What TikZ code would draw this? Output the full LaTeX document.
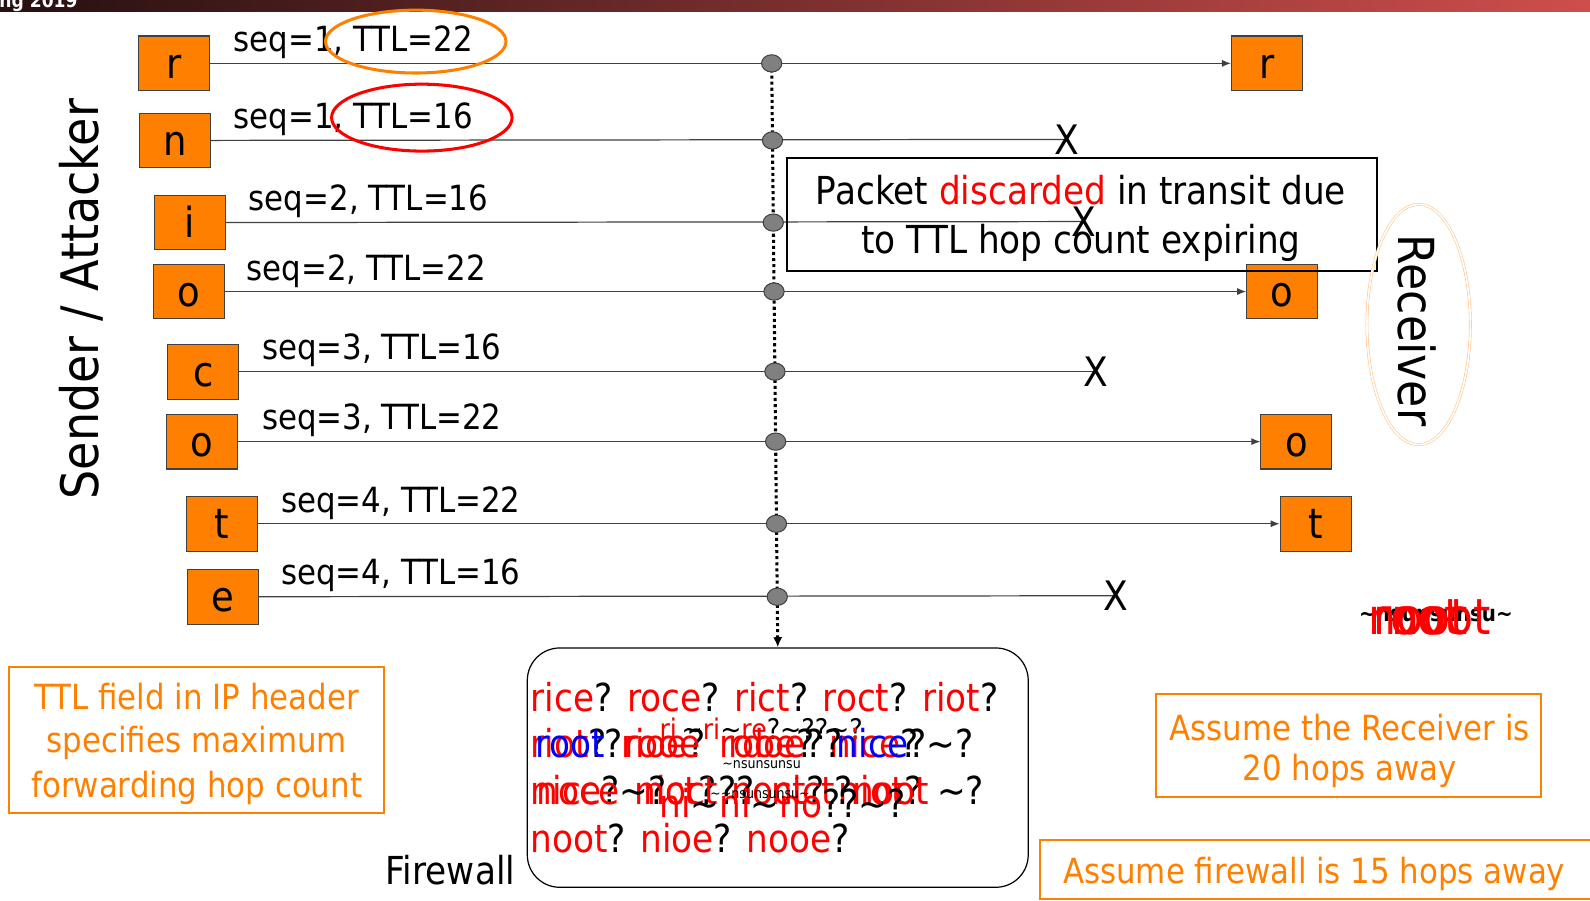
\documentclass[tikz,border=0pt]{standalone}
\usepackage{fontspec}
\setmainfont{DejaVu Sans}[FakeStretch=0.89]
\usetikzlibrary{shapes.geometric,arrows.meta}
\pgfdeclarelayer{behind}
\pgfsetlayers{behind,main}

\definecolor{boxorange}{RGB}{255,128,0}
\definecolor{edgegray}{RGB}{64,64,64}
\definecolor{hopgray}{RGB}{128,128,128}
\definecolor{barleft}{RGB}{38,16,16}
\definecolor{barright}{RGB}{206,78,76}
\definecolor{pale}{RGB}{255,196,140}

\newcommand\fsSeq{\fontsize{17.1}{20.5}\selectfont}
\newcommand\fsBig{\fontsize{19}{23}\selectfont}
\newcommand\fsLet{\fontsize{20.5}{24}\selectfont}
\newcommand\fsSide{\fontsize{25.5}{30}\selectfont}
\newcommand\rd[1]{\textcolor{red}{#1}}
\newcommand\bl[1]{\textcolor{blue}{#1}}

\begin{document}
\begin{tikzpicture}[x=0.5pt,y=-0.5pt,
  pkt/.style={draw=edgegray, fill=boxorange, line width=0.5pt, minimum width=35pt,
    minimum height=27pt, inner sep=0pt, text height=15pt, text depth=0pt, font=\fsLet},
  seqlab/.style={anchor=base west, inner sep=0pt, font=\fsSeq},
  wire/.style={draw=edgegray, line width=0.6pt},
  tipped/.style={wire, -{Latex[length=4.5pt,width=3.5pt]}},
  hopchain/.style={draw=black, line width=1.5pt, dash pattern=on 1.5pt off 1.5pt,
    -{Latex[length=5pt,width=4.5pt]}},
  hop/.style={ellipse, draw=edgegray, fill=hopgray, minimum width=10pt,
    minimum height=8.5pt, inner sep=0pt, line width=0.5pt},
  drop/.style={inner sep=0pt, font=\fontsize{20}{24}\selectfont},
  note/.style={draw=boxorange, line width=1pt, inner sep=0pt},
  notetext/.style={anchor=base, inner sep=0pt, text=boxorange, font=\fsSeq},
  fwtext/.style={anchor=base west, inner sep=0pt, font=\fsBig},
  smalltext/.style={anchor=base west, inner sep=0pt, font=\fontsize{14}{16}\selectfont},
]
\useasboundingbox (0,0) rectangle (1568,888);

% header strip
\shade[left color=barleft, right color=barright] (0,0) rectangle (1568,11.8);
\node[anchor=base west, inner sep=0pt, text=white, font=\bfseries\fontsize{9.5}{11}\selectfont]
  (term) at (-1,7) {ng 2019};

% sender side packets
\node[pkt] (sR)  at (171.5,62.5) {r};
\node[pkt] (sN)  at (172.5,138.5) {n};
\node[pkt] (sI)  at (187.5,219.5) {i};
\node[pkt] (sO1) at (186.5,287.5) {o};
\node[pkt] (sC)  at (200.5,366.5) {c};
\node[pkt] (sO2) at (199.5,435.5) {o};
\node[pkt] (sT)  at (218.5,516.5) {t};
\node[pkt] (sE)  at (219.5,588.5) {e};

% receiver side packets
\node[pkt] (rR)  at (1249.5,62.5) {r};
\node[pkt] (rO1) at (1264.5,287.5) {o};
\node[pkt] (rO2) at (1278.5,435.5) {o};
\node[pkt] (rT)  at (1297.5,516.5) {t};

% dropped packets
\node[drop] (xN) at (1052,137.5) {X};
\node[drop] (xI) at (1069,218.5) {X};
\node[drop] (xC) at (1081,366.5) {X};
\node[drop] (xE) at (1100,587.5) {X};

% sequence / TTL labels
\node[seqlab] (lR)  at (230,51)  {seq=1, TTL=22};
\node[seqlab] (lN)  at (230,127) {seq=1, TTL=16};
\node[seqlab] (lI)  at (245,208) {seq=2, TTL=16};
\node[seqlab] (lO1) at (243,277) {seq=2, TTL=22};
\node[seqlab] (lC)  at (258,355) {seq=3, TTL=16};
\node[seqlab] (lO2) at (258,424) {seq=3, TTL=22};
\node[seqlab] (lT)  at (277,505) {seq=4, TTL=22};
\node[seqlab] (lE)  at (277,576) {seq=4, TTL=16};

% TTL highlights
\node[ellipse, draw=boxorange, line width=1.5pt, minimum width=89pt, minimum height=31pt,
  inner sep=0pt] (ring22) at (410,41) {};
\node[ellipse, draw=red, line width=1.5pt, minimum width=89pt, minimum height=33pt,
  inner sep=0pt] (ring16) at (416,116) {};

% firewall
\node[draw=black, rounded corners=16pt, minimum width=247pt, minimum height=118pt,
  line width=0.6pt, inner sep=0pt] (fw) at (767,757) {};
\node[fwtext] (fwname) at (380,872) {Firewall};

% hops on the path
\node[hop] (h1) at (761.0,62.5) {};
\node[hop] (h2) at (761.8,138.5) {};
\node[hop] (h3) at (762.6,219.5) {};
\node[hop] (h4) at (763.3,287.5) {};
\node[hop] (h5) at (764.2,366.5) {};
\node[hop] (h6) at (764.9,435.5) {};
\node[hop] (h7) at (765.7,516.5) {};
\node[hop] (h8) at (766.5,588.5) {};

% explanation of the drops
\node[draw=black, line width=1pt, minimum width=291pt, minimum height=55.5pt, inner sep=0pt]
  (notice) at (1067,211.5) {};
\node[anchor=base, inner sep=0pt, font=\fsBig] (notice1) at (1066,202)
  {Packet \rd{discarded} in transit due};
\node[anchor=base, inner sep=0pt, font=\fsBig] (notice2) at (1066,250)
  {to TTL hop count expiring};

% side labels
\node[rotate=90, anchor=base, inner sep=0pt, font=\fsSide] (sender) at (97,295) {Sender / Attacker};
\node[ellipse, draw=pale, double=white, double distance=0.8pt, line width=0.3pt,
  minimum width=51pt, minimum height=118.5pt, inner sep=0pt] (recvring) at (1399,320) {};
\node[rotate=-90, anchor=base, inner sep=0pt, font=\fontsize{24.5}{29}\selectfont]
  (receiver) at (1379,326) {Receiver};

% candidate reassemblies seen by the firewall
\node[fwtext] (c1) at (523,702) {\rd{rice}? \rd{roce}? \rd{rict}? \rd{roct}? \rd{riot}?};

\node[smalltext] (c2r) at (650,729) {\rd{ri}\,\textasciitilde\rd{ri}\textasciitilde\rd{re}?\textasciitilde??\textasciitilde?};
\node[fwtext] (c2a) at (523,747) {\rd{riot}? \rd{rioe}? \rd{rooe}? \rd{nice}?};
\node[fwtext] (c2b) at (528,747) {\bl{root}};
\node[fwtext] (c2c) at (596,747) {?};
\node[fwtext] (c2d) at (615,747) {\rd{rooe}};
\node[fwtext] (c2e) at (718,747) {\rd{rdoe}??};
\node[fwtext] (c2f) at (825,747) {\bl{nice}?\textasciitilde?};
\node[anchor=base west, inner sep=0pt, font=\fontsize{7}{8}\selectfont] (c2g) at (712,758)
  {\textasciitilde nsunsunsu};

\node[fwtext] (c3a) at (523,793) {\rd{nice}? \rd{nict}? \rd{noct}? \rd{niot}? \textasciitilde?};
\node[fwtext] (c3b) at (529,793) {\rd{noce}\textasciitilde?};
\node[fwtext] (c3c) at (634,793) {\rd{noct}??};
\node[fwtext] (c3d) at (760,793) {\rd{nict}?};
\node[fwtext] (c3e) at (840,793) {\rd{noot}};
\node[fwtext] (c3f) at (650,806) {\rd{ni}\textasciitilde\rd{ni}\textasciitilde\rd{no}??\textasciitilde?};
\node[anchor=base west, inner sep=0pt, font=\fontsize{7}{8}\selectfont] (c3g) at (700,787)
  {\textasciitilde\textasciitilde nsunsunsu\textasciitilde};

\node[fwtext] (c4) at (523,841) {\rd{noot}? \rd{nioe}? \rd{nooe}?};

% reassembled word at the receiver
\node[anchor=base west, inner sep=0pt, font=\bfseries\fontsize{11}{12}\selectfont] (recsq) at (1340,613)
  {\textasciitilde nsunsunsu\textasciitilde};
\node[anchor=base west, inner sep=0pt, font=\fontsize{24.5}{28}\selectfont, text=red] (rw1) at (1349,626) {noot};
\node[anchor=base west, inner sep=0pt, font=\fontsize{24.5}{28}\selectfont, text=red] (rw2) at (1354,626) {root};
\node[anchor=base west, inner sep=0pt, font=\fontsize{24.5}{28}\selectfont, text=red] (rw3) at (1372,626) {noot};

% notes
\node[note, minimum width=185pt, minimum height=72pt] (ttlnote) at (194,730) {};
\node[notetext] (ttl1) at (194,700) {TTL field in IP header};
\node[notetext] (ttl2) at (194,742) {specifies maximum};
\node[notetext] (ttl3) at (194,786) {forwarding hop count};

\node[note, minimum width=190pt, minimum height=51pt] (rcvnote) at (1330,735) {};
\node[notetext] (rcv1) at (1331,730) {Assume the Receiver is};
\node[notetext] (rcv2) at (1331,770) {20 hops away};

\node[note, anchor=north west, minimum width=290pt, minimum height=29.5pt] (fwnote) at (1025,827) {};
\node[notetext, anchor=base west] (fwn1) at (1048,871) {Assume firewall is 15 hops away};

% packet paths
\begin{pgfonlayer}{behind}
\draw[tipped] (sR) -- (rR);
\draw[wire] (sN) -- (xN.center);
\draw[wire] (sI) -- (xI.center);
\draw[tipped] (sO1) -- (rO1);
\draw[wire] (sC) -- (xC.center);
\draw[tipped] (sO2) -- (rO2);
\draw[tipped] (sT) -- (rT);
\draw[wire] (sE) -- (xE.center);
\draw[hopchain] (h1.center) -- (fw.north);
\end{pgfonlayer}
\end{tikzpicture}
\end{document}
